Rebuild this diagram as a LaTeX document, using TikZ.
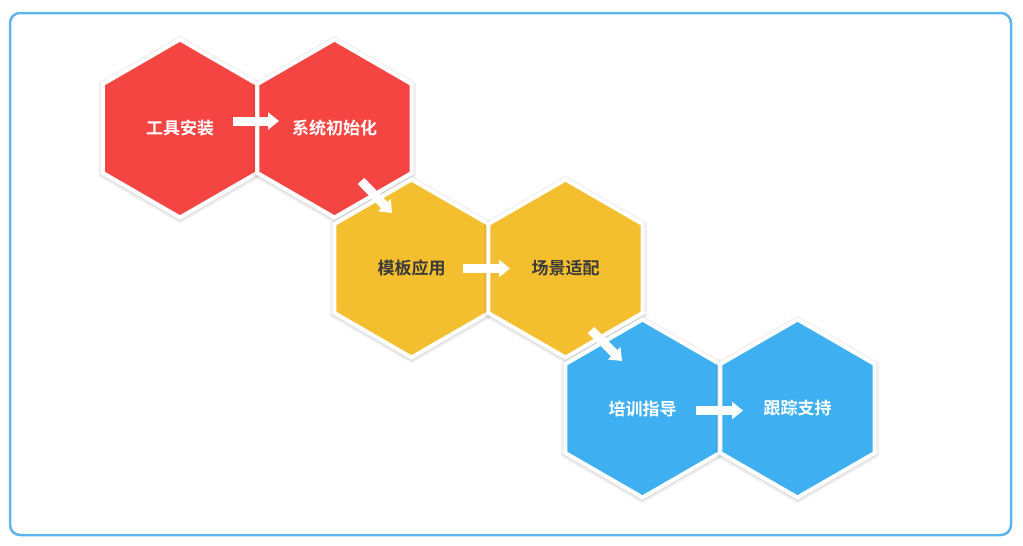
\documentclass[tikz,border=0pt]{standalone}
\usepackage{fontspec}
\usepackage{xcolor}
\usepackage{tikz}
\usetikzlibrary{shapes.geometric,shadows,arrows.meta}
\newfontfamily\cjk{Noto Sans CJK SC}[BoldFont={Noto Sans CJK SC Bold}]
\definecolor{hexred}{HTML}{F44542}
\definecolor{hexyellow}{HTML}{F4BF2F}
\definecolor{hexblue}{HTML}{3EAFF0}
\definecolor{hexdark}{HTML}{3A3A3A}
\definecolor{frameblue}{HTML}{5DB4EE}

\tikzset{
  hexcell/.style={regular polygon, regular polygon sides=6, shape border rotate=30,
    minimum size=178pt, inner sep=0pt, draw=white, line width=4pt,
    general shadow={fill=black, opacity=0.06, shadow scale=1.055, shadow yshift=-1pt},
    general shadow={fill=black, opacity=0.08, shadow scale=1.03, shadow yshift=-1pt},
    font=\cjk\bfseries\fontsize{17}{20}\selectfont},
  flow/.style={draw=white, line width=9pt, -{Triangle[length=11pt,width=17pt]}},
}

\begin{document}
\begin{tikzpicture}[x=1pt,y=-1pt]
  \useasboundingbox (0,0) rectangle (1023,546);
  \draw[frameblue, line width=2.5pt, rounded corners=10pt] (10,13) rectangle (1011,535);
  % cells
  \node[hexcell, fill=hexred, text=white] (install) at (180,128.5) {工具安装};
  \node[hexcell, fill=hexred, text=white] (init) at (334.5,128.5) {系统初始化};
  \node[hexcell, fill=hexyellow, text=hexdark] (template) at (411.5,268.5) {模板应用};
  \node[hexcell, fill=hexyellow, text=hexdark] (scene) at (565.5,268.5) {场景适配};
  \node[hexcell, fill=hexblue, text=white] (train) at (642.5,408.5) {培训指导};
  \node[hexcell, fill=hexblue, text=white] (track) at (797.5,408.5) {跟踪支持};
  % arrows
  \draw[flow] ([xshift=53pt,yshift=7.5pt]install.center) -- ([xshift=-55.5pt,yshift=7.5pt]init.center);
  \draw[flow] ([xshift=26.5pt,yshift=-52.5pt]init.center) -- ([xshift=-19.5pt,yshift=55.5pt]template.center);
  \draw[flow] ([xshift=51.5pt]template.center) -- ([xshift=-55.5pt]scene.center);
  \draw[flow] ([xshift=25.5pt,yshift=-61.5pt]scene.center) -- ([xshift=-20.5pt,yshift=47.5pt]train.center);
  \draw[flow] ([xshift=53.5pt,yshift=-2pt]train.center) -- ([xshift=-54.5pt,yshift=-2pt]track.center);
\end{tikzpicture}
\end{document}
